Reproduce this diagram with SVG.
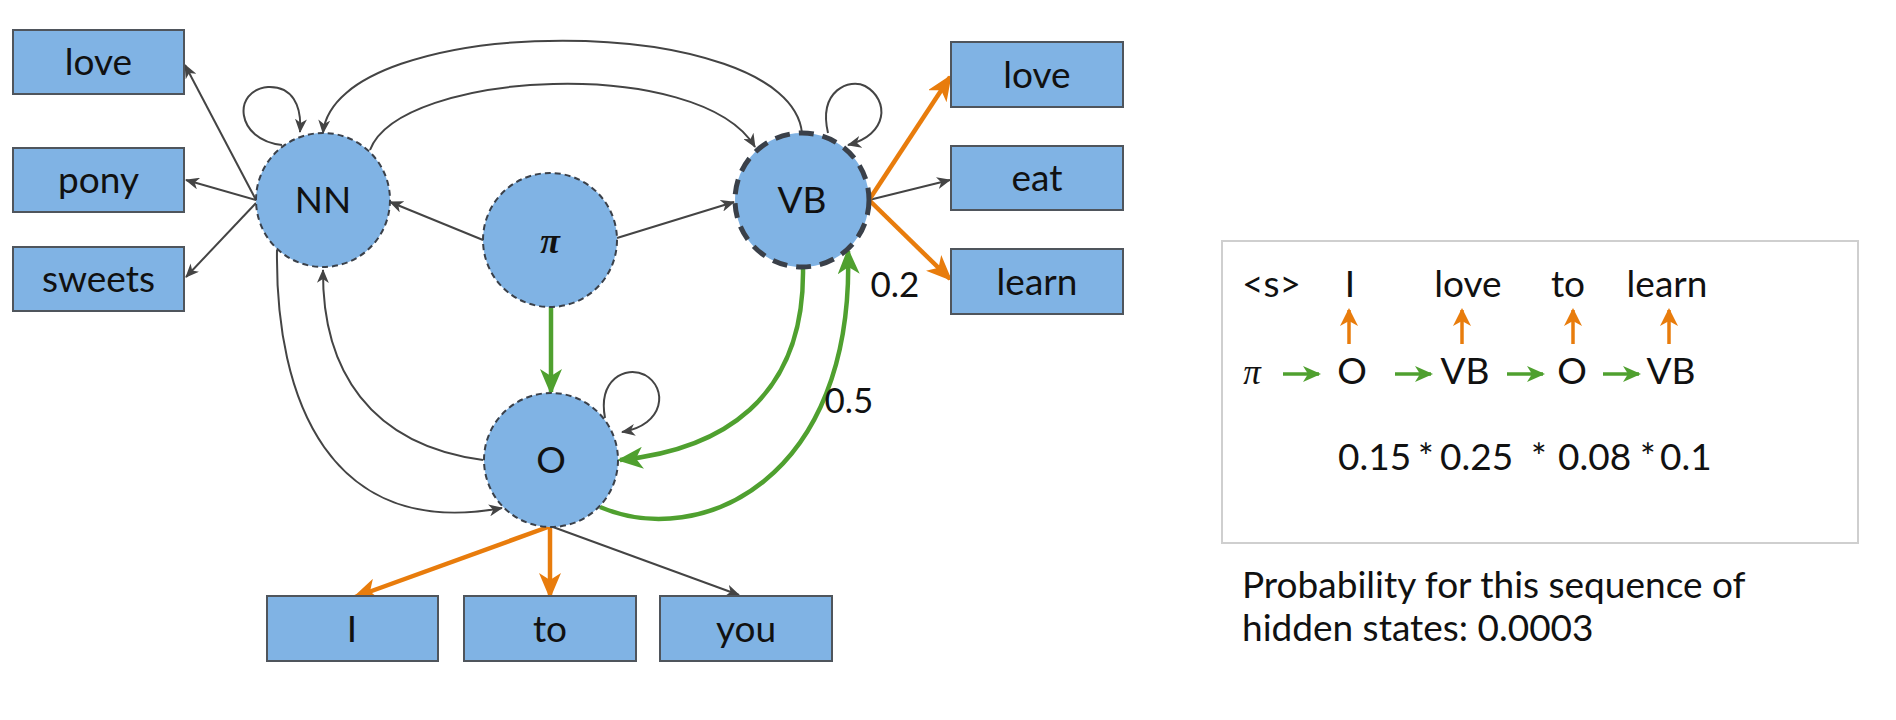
<svg xmlns="http://www.w3.org/2000/svg" width="1896" height="720" viewBox="0 0 1896 720">
<style>
  .bg{fill:#ffffff}
  .box{fill:#80b3e4;stroke:#4f555c;stroke-width:2}
  .node{fill:#80b3e4;stroke:#3a4049;stroke-width:2;stroke-dasharray:6 4}
  .nodeThick{fill:#80b3e4;stroke:#3a4049;stroke-width:5;stroke-dasharray:15 9}
  .lbl{font-family:Lato,"Liberation Sans",sans-serif;font-size:37px;fill:#111;text-anchor:middle}
  .pi{font-family:"Liberation Serif","DejaVu Serif",serif;font-style:italic;font-weight:bold;font-size:36px;fill:#111;text-anchor:middle}
  .gray{fill:none;stroke:#444;stroke-width:2}
  .green{fill:none;stroke:#4fa02f;stroke-width:4.5}
  .orange{fill:none;stroke:#e87c0c;stroke-width:4.5}
  .txt{font-family:Lato,"Liberation Sans",sans-serif;font-size:37px;fill:#111}
  .small-g{fill:none;stroke:#4fa02f;stroke-width:3.5}
  .small-o{fill:none;stroke:#e87c0c;stroke-width:3.5}
</style>
<defs>
  <marker id="ag" markerUnits="userSpaceOnUse" markerWidth="16" markerHeight="12" refX="13" refY="6" orient="auto">
    <path d="M0,0 L14,6 L0,12 L4,6 z" fill="#444"/>
  </marker>
  <marker id="agr" markerUnits="userSpaceOnUse" markerWidth="28" markerHeight="22" refX="23" refY="11" orient="auto">
    <path d="M0,0 L26,11 L0,22 L7,11 z" fill="#4fa02f"/>
  </marker>
  <marker id="aor" markerUnits="userSpaceOnUse" markerWidth="28" markerHeight="22" refX="23" refY="11" orient="auto">
    <path d="M0,0 L26,11 L0,22 L7,11 z" fill="#e87c0c"/>
  </marker>
  <marker id="sg" markerUnits="userSpaceOnUse" markerWidth="20" markerHeight="18" refX="16" refY="9" orient="auto">
    <path d="M0,1 L18,9 L0,17 L5,9 z" fill="#4fa02f"/>
  </marker>
  <marker id="so" markerUnits="userSpaceOnUse" markerWidth="20" markerHeight="18" refX="16" refY="9" orient="auto">
    <path d="M0,0 L18,9 L0,18 L5,9 z" fill="#e87c0c"/>
  </marker>
</defs>
<rect class="bg" x="0" y="0" width="1896" height="720"/>

<g id="connectors">
  <!-- NN emissions -->
  <line class="gray" x1="256" y1="200" x2="185" y2="65" marker-end="url(#ag)"/>
  <line class="gray" x1="256" y1="200" x2="186" y2="180" marker-end="url(#ag)"/>
  <line class="gray" x1="256" y1="203" x2="186" y2="277" marker-end="url(#ag)"/>
  <!-- self loops -->
  <path class="gray" d="M282,145 C235,140 232,90 268,87 C292,86 302,105 300,132" marker-end="url(#ag)"/>
  <path class="gray" d="M828,133 C818,90 850,78 865,86 C890,100 888,135 848,145" marker-end="url(#ag)"/>
  <path class="gray" d="M605,418 C598,380 625,365 645,375 C668,388 665,425 622,432" marker-end="url(#ag)"/>
  <!-- VB -> NN outer arc -->
  <path class="gray" d="M802,133 C790,10 335,10 323,133" marker-end="url(#ag)"/>
  <!-- NN -> VB inner arc -->
  <path class="gray" d="M370,150 C400,70 700,55 755,147" marker-end="url(#ag)"/>
  <!-- pi -> NN, pi -> VB -->
  <line class="gray" x1="483" y1="240" x2="390" y2="202" marker-end="url(#ag)"/>
  <line class="gray" x1="617" y1="238" x2="734" y2="202" marker-end="url(#ag)"/>
  <!-- NN -> O -->
  <path class="gray" d="M277,250 C275,400 330,540 502,508" marker-end="url(#ag)"/>
  <!-- O -> NN -->
  <path class="gray" d="M483,460 C370,445 322,370 323,270" marker-end="url(#ag)"/>
  <!-- VB -> eat -->
  <line class="gray" x1="869" y1="200" x2="950" y2="180" marker-end="url(#ag)"/>
  <!-- O -> you -->
  <line class="gray" x1="553" y1="527" x2="739" y2="595" marker-end="url(#ag)"/>
  <!-- green transitions -->
  <line class="green" x1="551" y1="307" x2="551" y2="392" marker-end="url(#agr)"/>
  <path class="green" d="M803,268 C805,400 720,450 620,460" marker-end="url(#agr)"/>
  <path class="green" d="M600,507 C700,550 855,480 848,251" marker-end="url(#agr)"/>
  <!-- orange emissions -->
  <line class="orange" x1="869" y1="200" x2="950" y2="77" marker-end="url(#aor)"/>
  <line class="orange" x1="869" y1="200" x2="950" y2="279" marker-end="url(#aor)"/>
  <line class="orange" x1="548" y1="527" x2="355" y2="597" marker-end="url(#aor)"/>
  <line class="orange" x1="550" y1="527" x2="550" y2="596" marker-end="url(#aor)"/>
  <!-- edge labels -->
  <text class="lbl" x="895" y="297" style="font-size:35px">0.2</text>
  <text class="lbl" x="849" y="413" style="font-size:35px">0.5</text>
</g>

<g id="box-love-l"><rect class="box" x="13" y="30" width="171" height="64"/><text class="lbl" x="98.5" y="75">love</text></g>
<g id="box-pony"><rect class="box" x="13" y="148" width="171" height="64"/><text class="lbl" x="98.5" y="193">pony</text></g>
<g id="box-sweets"><rect class="box" x="13" y="247" width="171" height="64"/><text class="lbl" x="98.5" y="292">sweets</text></g>

<g id="box-love-r"><rect class="box" x="951" y="42" width="172" height="65"/><text class="lbl" x="1037" y="88">love</text></g>
<g id="box-eat"><rect class="box" x="951" y="146" width="172" height="64"/><text class="lbl" x="1037" y="191">eat</text></g>
<g id="box-learn"><rect class="box" x="951" y="249" width="172" height="65"/><text class="lbl" x="1037" y="295">learn</text></g>

<g id="box-I"><rect class="box" x="267" y="596" width="171" height="65"/><text class="lbl" x="352" y="642">I</text></g>
<g id="box-to"><rect class="box" x="464" y="596" width="172" height="65"/><text class="lbl" x="550" y="642">to</text></g>
<g id="box-you"><rect class="box" x="660" y="596" width="172" height="65"/><text class="lbl" x="746" y="642">you</text></g>

<g id="node-NN"><circle class="node" cx="323" cy="200" r="67"/><text class="lbl" x="323" y="213">NN</text></g>
<g id="node-pi"><circle class="node" cx="550" cy="240" r="67"/><text class="pi" x="550" y="253">π</text></g>
<g id="node-VB"><circle class="nodeThick" cx="802" cy="200" r="67"/><text class="lbl" x="802" y="213">VB</text></g>
<g id="node-O"><circle class="node" cx="551" cy="460" r="67"/><text class="lbl" x="551" y="473">O</text></g>

<g id="panel">
  <rect x="1222" y="241" width="636" height="302" fill="#fff" stroke="#cfcfcf" stroke-width="2"/>
  <text class="txt" x="1242" y="297">&lt;s&gt;</text>
  <text class="txt" x="1350" y="297" text-anchor="middle">I</text>
  <text class="txt" x="1468" y="297" text-anchor="middle">love</text>
  <text class="txt" x="1568" y="297" text-anchor="middle">to</text>
  <text class="txt" x="1667" y="297" text-anchor="middle">learn</text>
  <line class="small-o" x1="1349" y1="344" x2="1349" y2="310" marker-end="url(#so)"/>
  <line class="small-o" x1="1462" y1="344" x2="1462" y2="310" marker-end="url(#so)"/>
  <line class="small-o" x1="1573" y1="344" x2="1573" y2="310" marker-end="url(#so)"/>
  <line class="small-o" x1="1669" y1="344" x2="1669" y2="310" marker-end="url(#so)"/>
  <text x="1252" y="384" style="font-family:'Liberation Serif','DejaVu Serif',serif;font-style:italic;font-size:35px;fill:#111;text-anchor:middle">π</text>
  <line class="small-g" x1="1283" y1="374" x2="1319" y2="374" marker-end="url(#sg)"/>
  <text class="txt" x="1352" y="384" text-anchor="middle">O</text>
  <line class="small-g" x1="1395" y1="374" x2="1431" y2="374" marker-end="url(#sg)"/>
  <text class="txt" x="1465" y="384" text-anchor="middle">VB</text>
  <line class="small-g" x1="1507" y1="374" x2="1543" y2="374" marker-end="url(#sg)"/>
  <text class="txt" x="1572" y="384" text-anchor="middle">O</text>
  <line class="small-g" x1="1603" y1="374" x2="1639" y2="374" marker-end="url(#sg)"/>
  <text class="txt" x="1671" y="384" text-anchor="middle">VB</text>
  <text class="txt" y="470"><tspan x="1338">0.15</tspan><tspan x="1418">*</tspan><tspan x="1440">0.25</tspan><tspan x="1531">*</tspan><tspan x="1558">0.08</tspan><tspan x="1640">*</tspan><tspan x="1660">0.1</tspan></text>
  <text class="txt" x="1242" y="598">Probability for this sequence of</text>
  <text class="txt" x="1242" y="641">hidden states: 0.0003</text>
</g>
</svg>
